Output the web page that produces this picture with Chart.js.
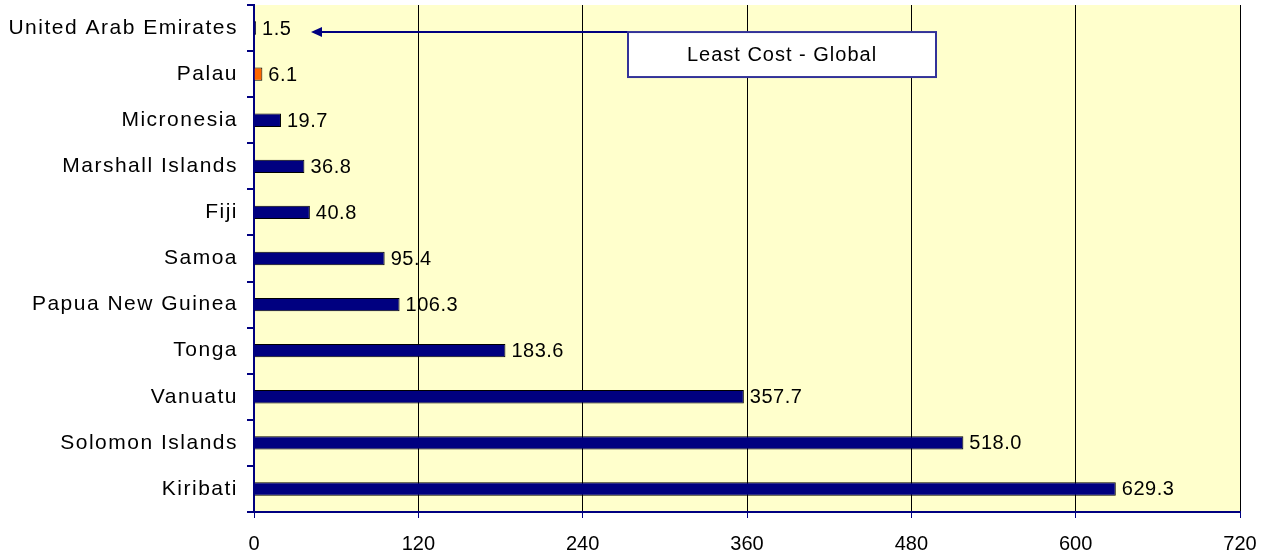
<!DOCTYPE html>
<html>
<head>
<meta charset="utf-8">
<script src="https://cdn.jsdelivr.net/npm/chart.js@4.4.0/dist/chart.umd.min.js"></script>
<style>
  html, body { margin: 0; padding: 0; background: #fff; }
  #wrap { width: 1273px; height: 558px; }
</style>
</head>
<body>
<div id="wrap"><canvas id="grafico" width="1273" height="558"></canvas></div>
<script>
// Dados
const paises = ['United Arab Emirates', 'Palau', 'Micronesia', 'Marshall Islands', 'Fiji', 'Samoa',
  'Papua New Guinea', 'Tonga', 'Vanuatu', 'Solomon Islands', 'Kiribati'];
const valores = [1.5, 6.1, 19.7, 36.8, 40.8, 95.4, 106.3, 183.6, 357.7, 518.0, 629.3];
const coresBarras = ['#000080', '#FF6600', '#000080', '#000080', '#000080', '#000080',
  '#000080', '#000080', '#000080', '#000080', '#000080'];
const ticksX = [0, 120, 240, 360, 480, 600, 720];
const textoNota = 'Least Cost - Global';

const NAVY = '#000080';
const FONTE = '"Liberation Sans", Arial, sans-serif';

// Fundo amarelo da área do gráfico
const fundoPlugin = {
  id: 'fundo',
  beforeDraw(chart) {
    const { ctx, chartArea: a } = chart;
    ctx.letterSpacing = '1.5px';
    ctx.save();
    ctx.fillStyle = '#FFFFCC';
    ctx.fillRect(a.left, a.top, a.right - a.left, a.bottom - a.top);
    ctx.restore();
  }
};

// Rótulos de valor + caixa com seta
const rotulosPlugin = {
  id: 'rotulos',
  afterDatasetsDraw(chart) {
    const { ctx } = chart;
    const meta = chart.getDatasetMeta(0);
    ctx.save();
    ctx.letterSpacing = '0.5px';
    ctx.font = '20px ' + FONTE;
    ctx.fillStyle = '#000';
    ctx.textBaseline = 'middle';
    ctx.textAlign = 'left';
    meta.data.forEach((bar, i) => {
      ctx.fillText(valores[i].toFixed(1), bar.x + 6, bar.y + 1);
    });

    // anotação
    const a = chart.chartArea;
    const y0 = meta.data[0].y + 4;
    const boxL = a.left + 374, boxR = a.left + 682, boxT = y0, boxB = y0 + 45;
    const tipX = a.left + 57;
    ctx.strokeStyle = NAVY;
    ctx.lineWidth = 2;
    ctx.beginPath();
    ctx.moveTo(tipX + 4, y0);
    ctx.lineTo(boxL, y0);
    ctx.stroke();
    ctx.fillStyle = NAVY;
    ctx.beginPath();
    ctx.moveTo(tipX, y0);
    ctx.lineTo(tipX + 11, y0 - 5);
    ctx.lineTo(tipX + 11, y0 + 5);
    ctx.closePath();
    ctx.fill();

    ctx.fillStyle = '#fff';
    ctx.fillRect(boxL, boxT, boxR - boxL, boxB - boxT);
    ctx.strokeStyle = '#333399';
    ctx.strokeRect(boxL, boxT, boxR - boxL, boxB - boxT);
    ctx.fillStyle = '#000';
    ctx.textAlign = 'center';
    ctx.letterSpacing = '1px';
    ctx.fillText(textoNota, (boxL + boxR) / 2, (boxT + boxB) / 2 + 1);
    ctx.restore();
  }
};

new Chart(document.getElementById('grafico').getContext('2d'), {
  type: 'bar',
  data: {
    labels: paises,
    datasets: [{
      data: valores,
      backgroundColor: coresBarras,
      borderColor: '#000',
      borderWidth: 1,
      barPercentage: 0.29,
      categoryPercentage: 1
    }]
  },
  options: {
    indexAxis: 'y',
    responsive: false,
    animation: false,
    layout: { padding: { top: 5, right: 33, left: 0, bottom: 0 } },
    plugins: { legend: { display: false }, tooltip: { enabled: false } },
    scales: {
      x: {
        min: 0, max: 720,
        afterBuildTicks(scale) { scale.ticks = ticksX.map(v => ({ value: v })); },
        afterFit(scale) {
          scale.height = 46;
          // números do eixo x sem espaçamento extra
          if (!scale._semEspaco) {
            const orig = scale.drawLabels;
            scale.drawLabels = function (area) {
              this.ctx.save();
              this.ctx.letterSpacing = '0px';
              orig.call(this, area);
              this.ctx.restore();
            };
            scale._semEspaco = true;
          }
        },
        border: { color: NAVY, width: 2 },
        grid: {
          color: c => (c.tick && c.tick.value === 0) ? NAVY : '#000',
          tickColor: NAVY,
          tickLength: 6,
          lineWidth: 1
        },
        ticks: { color: '#000', font: { size: 20, family: FONTE }, padding: 14, maxRotation: 0 }
      },
      y: {
        afterFit(scale) {
          scale.width = 254;
          scale.paddingTop = 0;
          scale.paddingBottom = 0;
        },
        border: { color: NAVY, width: 2 },
        grid: { offset: true, drawOnChartArea: false, color: NAVY, tickLength: 7, lineWidth: 2 },
        ticks: { color: '#000', font: { size: 21, family: FONTE }, padding: 9 }
      }
    }
  },
  plugins: [fundoPlugin, rotulosPlugin]
});
</script>
</body>
</html>
